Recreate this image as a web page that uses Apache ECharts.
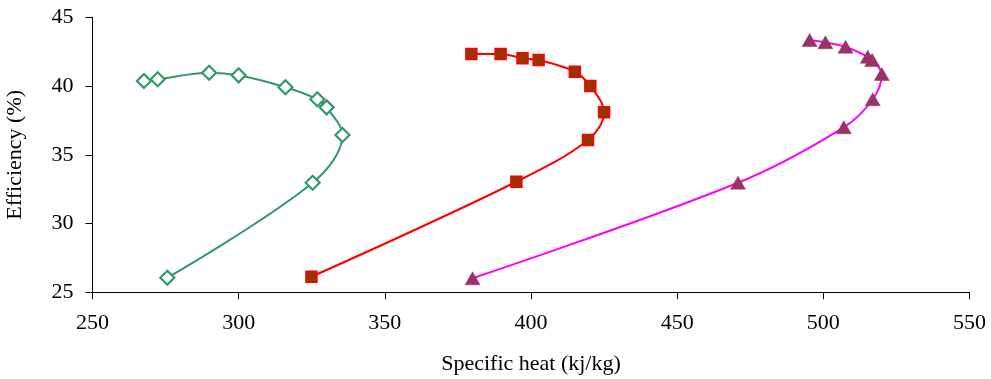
<!DOCTYPE html>
<html>
<head>
<meta charset="utf-8">
<script src="https://cdn.jsdelivr.net/npm/echarts@6/dist/echarts.min.js"></script>
<style>html,body{margin:0;padding:0;background:#fff}#c{width:991px;height:379px}</style>
</head>
<body>
<div id="c"></div>
<script>
// Series A (green diamonds)
const greenX = [267.6, 272.3, 289.9, 300.0, 316.0, 326.9, 330.1, 335.5, 325.3, 275.6];
const greenY = [40.37, 40.49, 40.97, 40.78, 39.91, 39.04, 38.45, 36.44, 32.97, 26.06];
// Series B (red squares)
const redX = [379.6, 389.6, 397.1, 402.6, 415.0, 420.3, 425.0, 419.5, 395.0, 324.9];
const redY = [42.33, 42.33, 42.02, 41.89, 41.04, 40.00, 38.09, 36.08, 33.04, 26.13];
// Series C (magenta triangles)
const magX = [495.3, 500.7, 507.6, 515.2, 516.7, 520.0, 516.9, 507.0, 470.8, 380.0];
const magY = [43.35, 43.18, 42.86, 42.13, 41.89, 40.88, 39.04, 37.00, 32.97, 26.02];

const xTicks = [250, 300, 350, 400, 450, 500, 550];
const yTicks = [25, 30, 35, 40, 45];

const pairs = (xs, ys) => xs.map((x, i) => [x, ys[i]]);
const FONT = '"Liberation Serif", "Times New Roman", serif';

const chart = echarts.init(document.getElementById('c'));
chart.setOption({
  animation: false,
  backgroundColor: '#fff',
  grid: { left: 92.5, right: 21.5, top: 17.3, bottom: 86.7, containLabel: false, outerBoundsMode: 'none' },
  xAxis: {
    type: 'value', min: xTicks[0], max: xTicks[xTicks.length - 1], interval: 50,
    name: 'Specific heat (kj/kg)', nameLocation: 'middle', nameGap: 61,
    nameTextStyle: { fontFamily: FONT, fontSize: 22, color: '#000' },
    axisLine: { show: true, onZero: false, lineStyle: { color: '#000', width: 1 } },
    axisTick: { show: true, inside: false, length: 7, lineStyle: { color: '#000' } },
    axisLabel: { fontFamily: FONT, fontSize: 22, color: '#000', margin: 20 },
    splitLine: { show: false }
  },
  yAxis: {
    type: 'value', min: yTicks[0], max: yTicks[yTicks.length - 1], interval: 5,
    name: 'Efficiency (%)', nameLocation: 'middle', nameGap: 66, nameRotate: 90,
    nameTextStyle: { fontFamily: FONT, fontSize: 22, color: '#000' },
    axisLine: { show: true, onZero: false, lineStyle: { color: '#000', width: 1 } },
    axisTick: { show: true, inside: false, length: 7, lineStyle: { color: '#000' } },
    axisLabel: { fontFamily: FONT, fontSize: 22, color: '#000', margin: 19 },
    splitLine: { show: false }
  },
  series: [
    {
      type: 'line', data: pairs(greenX, greenY), smooth: 0.35,
      symbol: 'diamond', symbolSize: 14, showAllSymbol: true,
      lineStyle: { color: '#339966', width: 2 },
      itemStyle: { color: '#ffffff', borderColor: '#339966', borderWidth: 2.2 }
    },
    {
      type: 'line', data: pairs(redX, redY), smooth: 0.35,
      symbol: 'rect', symbolSize: 11, showAllSymbol: true,
      lineStyle: { color: '#ff0000', width: 2 },
      itemStyle: { color: '#993300', borderColor: '#ff0000', borderWidth: 1.5 }
    },
    {
      type: 'line', data: pairs(magX, magY), smooth: 0.35,
      symbol: 'triangle', symbolSize: [15, 13], showAllSymbol: true,
      lineStyle: { color: '#ff00ff', width: 2 },
      itemStyle: { color: '#993366', borderColor: '#993366', borderWidth: 0.5 }
    }
  ]
});
</script>
</body>
</html>
